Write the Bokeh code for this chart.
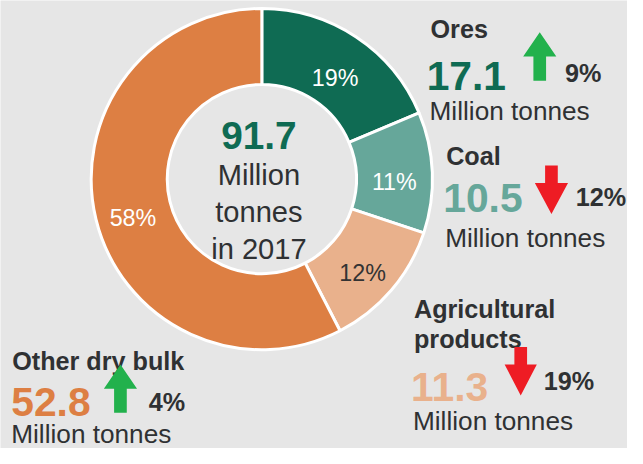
import numpy as np
from bokeh.plotting import figure
from bokeh.models import Range1d, ColumnDataSource
from bokeh.core.properties import value
from bokeh.embed import file_html
from bokeh.resources import INLINE

# ---------------- data ----------------
categories = ["Ores", "Coal", "Agricultural products", "Other dry bulk"]
title_lines = [["Ores"], ["Coal"], ["Agricultural", "products"], ["Other dry bulk"]]
volumes = [17.1, 10.5, 11.3, 52.8]      # million tonnes, 2017
changes = [9, -12, -19, 4]              # % change
year = 2017
unit_label = "Million tonnes"

# ---------------- styles ----------------
colors = ["#0f6b53", "#66a79a", "#e9b18c", "#dd7f43"]
share_text_colors = ["#ffffff", "#ffffff", "#333333", "#ffffff"]
BG = "#e6e6e6"
DARK = "#2f3133"
UP = "#22b14c"
DOWN = "#ee1c24"
FONT = value("Liberation Sans")

RW, RH = 643, 464          # design canvas (y down)
PW, PH = 627, 448          # plot size
FS = (PW / RW + PH / RH) / 2   # font scale


def Y(y):
    return RH - y


def fs(size):
    return f"{size * FS:.1f}px"


# layout (design coordinates)
CX, CY, R_OUT, R_IN = 268, 185, 175, 97
title_x = [441, 457, 424, 12]
title_base = [[30], [161], [320, 351], [373]]
value_x = [437, 454, 421, 11]
value_base = [78, 205, 400, 416]
arrow_box = [(536, 570, 33, 83), (548, 582, 171, 221), (517, 550, 359, 409), (106, 140, 377, 427)]
pct_x = [579, 590, 557, 152]
pct_base = [75, 203, 394, 416]
unit_x = [440, 456, 423, 11]
unit_base = [114, 246, 436, 449]

p = figure(width=PW, height=PH, x_range=Range1d(0, RW), y_range=Range1d(0, RH),
           output_backend="svg", toolbar_location=None, min_border=0)
p.axis.visible = False
p.grid.visible = False
p.outline_line_color = None
p.background_fill_color = BG
p.border_fill_color = BG

# ---------------- donut ----------------
total = sum(volumes)
frac = np.array(volumes) / total
cum = np.concatenate([[0.0], np.cumsum(frac)])
start = np.pi / 2 - 2 * np.pi * cum[:-1]
end = np.pi / 2 - 2 * np.pi * cum[1:]
src = ColumnDataSource(dict(start=start, end=end, color=colors))
p.annular_wedge(x=CX, y=Y(CY), inner_radius=R_IN, outer_radius=R_OUT,
                start_angle="start", end_angle="end", direction="clock",
                fill_color="color", line_color="white", line_width=3, source=src)

mid = (start + end) / 2
r_lab = (R_IN + R_OUT) / 2
lx = CX + r_lab * np.cos(mid)
ly = Y(CY) + r_lab * np.sin(mid)
shares = [f"{round(f * 100)}%" for f in frac]
p.text(x=lx, y=ly, text=shares, text_color=share_text_colors, text_font=FONT,
       text_font_size=fs(24), text_align="center", text_baseline="alphabetic", y_offset=8.3)


def txt(x, y, s, size, color, bold=False, align="left"):
    p.text(x=[x], y=[Y(y)], text=[s], text_font=FONT, text_font_size=fs(size),
           text_font_style="bold" if bold else "normal", text_color=color,
           text_align=align, text_baseline="alphabetic")


# centre
txt(265, 140, f"{total:.1f}", 40, colors[0], bold=True, align="center")
for s, b in zip(["Million", "tonnes", f"in {year}"], [181, 219, 257]):
    txt(265, b, s, 30, DARK, align="center")

# ---------------- side blocks ----------------
axs, ays, acol = [], [], []
for i in range(len(categories)):
    for line, b in zip(title_lines[i], title_base[i]):
        txt(title_x[i], b, line, 26, DARK, bold=True)
    txt(value_x[i], value_base[i], f"{volumes[i]:.1f}", 42, colors[i], bold=True)
    txt(pct_x[i], pct_base[i], f"{abs(changes[i])}%", 26, DARK, bold=True)
    txt(unit_x[i], unit_base[i], unit_label, 27, DARK)

    x0, x1, t, btm = arrow_box[i]
    cx = (x0 + x1) / 2
    hw = (x1 - x0) / 2
    sw = 6.5
    if changes[i] >= 0:
        hh = 25
        pts = [(cx, t), (cx + hw, t + hh), (cx + sw, t + hh), (cx + sw, btm),
               (cx - sw, btm), (cx - sw, t + hh), (cx - hw, t + hh)]
        acol.append(UP)
    else:
        hh = 32
        pts = [(cx, btm), (cx + hw, btm - hh), (cx + sw, btm - hh), (cx + sw, t),
               (cx - sw, t), (cx - sw, btm - hh), (cx - hw, btm - hh)]
        acol.append(DOWN)
    axs.append([q[0] for q in pts])
    ays.append([Y(q[1]) for q in pts])

p.patches(xs=axs, ys=ays, fill_color=acol, line_color=None)

open("out.html", "w").write(file_html(p, INLINE))
